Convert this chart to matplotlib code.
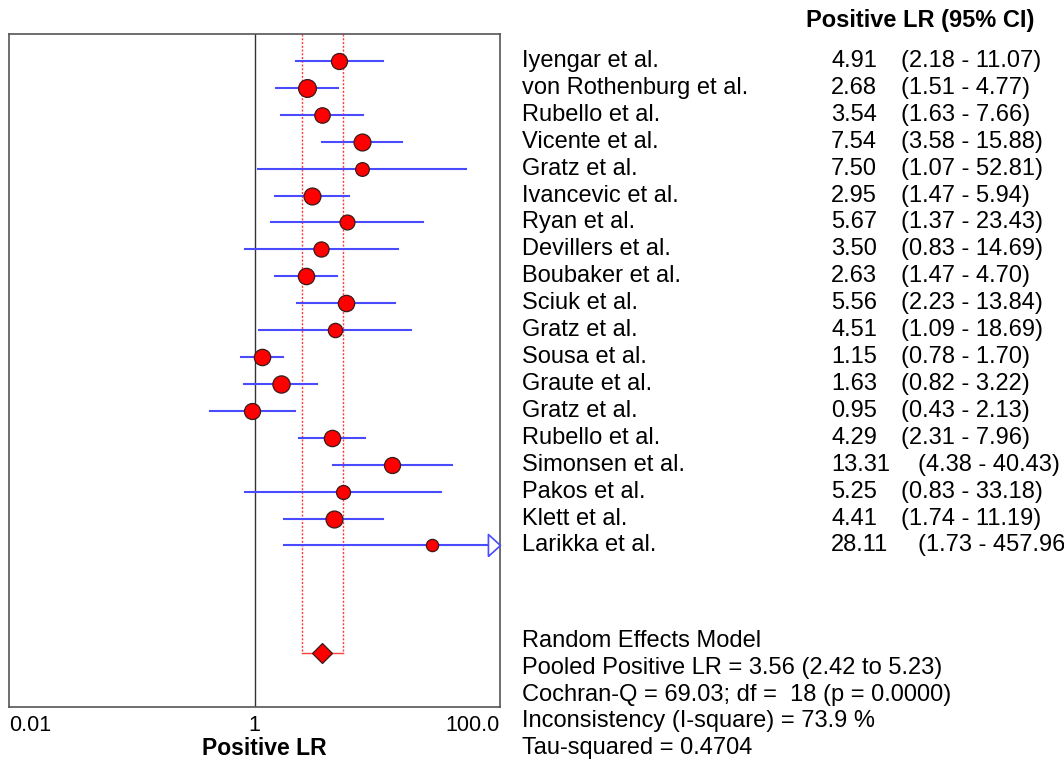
import matplotlib
matplotlib.use('Agg')
import matplotlib.pyplot as plt
import matplotlib.transforms as mtransforms

plt.rcParams['font.family'] = ['Liberation Sans', 'DejaVu Sans']

# --- study data ---
studies = ["Iyengar et al.", "von Rothenburg et al.", "Rubello et al.", "Vicente et al.",
           "Gratz et al.", "Ivancevic et al.", "Ryan et al.", "Devillers et al.",
           "Boubaker et al.", "Sciuk et al.", "Gratz et al.", "Sousa et al.",
           "Graute et al.", "Gratz et al.", "Rubello et al.", "Simonsen et al.",
           "Pakos et al.", "Klett et al.", "Larikka et al."]
lr = [4.91, 2.68, 3.54, 7.54, 7.50, 2.95, 5.67, 3.50, 2.63, 5.56, 4.51, 1.15,
      1.63, 0.95, 4.29, 13.31, 5.25, 4.41, 28.11]
ci_low = [2.18, 1.51, 1.63, 3.58, 1.07, 1.47, 1.37, 0.83, 1.47, 2.23, 1.09, 0.78,
          0.82, 0.43, 2.31, 4.38, 0.83, 1.74, 1.73]
ci_high = [11.07, 4.77, 7.66, 15.88, 52.81, 5.94, 23.43, 14.69, 4.70, 13.84, 18.69,
           1.70, 3.22, 2.13, 7.96, 40.43, 33.18, 11.19, 457.96]
# relative study weights
weights = [5.5, 6.1, 5.3, 5.8, 4.7, 5.8, 5.1, 5.2, 5.6, 5.6, 4.9, 5.6,
           5.9, 5.5, 5.6, 5.5, 4.8, 5.8, 4.2]

pooled = 3.56
pooled_low = 2.42
pooled_high = 5.23
stats_lines = ["Random Effects Model",
               "Pooled Positive LR = 3.56 (2.42 to 5.23)",
               "Cochran-Q = 69.03; df =  18 (p = 0.0000)",
               "Inconsistency (I-square) = 73.9 %",
               "Tau-squared = 0.4704"]

XMIN, XMAX = 0.01, 100.0
FS_TICK = 15.5
FS = 17

fig = plt.figure(figsize=(10.64, 7.64), dpi=100)
ax = fig.add_axes([9 / 1064, 1 - 707 / 764, 491 / 1064, 673 / 764])
ax.set_xscale('log')
ax.set_xlim(XMIN, XMAX)
ax.set_ylim(24, -1)

pooled_row = len(studies) + 3

# reference line at 1
ax.axvline(1, color='#333333', linewidth=1.0, zorder=1)

# pooled CI box (dashed verticals down to the diamond)
for v in (pooled_low, pooled_high):
    ax.plot([v, v], [-1, pooled_row], color='#ff3b3b', linestyle=(0, (1.5, 1.2)),
            linewidth=1.0, zorder=2)
ax.plot([pooled_low, pooled_high], [pooled_row, pooled_row], color='#ff3b3b',
        linewidth=1.0, zorder=2)

for i in range(len(studies)):
    hi = min(ci_high[i], XMAX)
    ax.plot([ci_low[i], hi], [i, i], color='#4a4aff', linewidth=1.5, zorder=3)
    ax.plot(lr[i], i, 'o', markersize=weights[i] * 2.1, markerfacecolor='#ff0000',
            markeredgecolor='#3a1a1a', markeredgewidth=0.9, zorder=4)
    if ci_high[i] > XMAX:
        ax.plot(XMAX, i, marker=[(-1.1, -1), (0, 0), (-1.1, 1), (-1.1, -1)],
                markersize=17.4, markerfacecolor='white', markeredgecolor='#4a4aff',
                markeredgewidth=1.2, clip_on=False, zorder=5)

ax.plot(pooled, pooled_row, 'D', markersize=10.2, markerfacecolor='#ff0000',
        markeredgecolor='#3a1a1a', markeredgewidth=0.9, zorder=4)

# axes styling
for s in ax.spines.values():
    s.set_color('#555555')
    s.set_linewidth(1.2)
ax.set_yticks([])
ax.minorticks_off()
ax.set_xticks([0.01, 1, 100])
ax.set_xticklabels(['0.01', '1', '100.0'], fontsize=FS_TICK)
ax.tick_params(axis='x', length=0, pad=6)
labels = ax.get_xticklabels()
labels[0].set_horizontalalignment('left')
labels[2].set_horizontalalignment('right')
ax.set_xlabel('Positive LR', fontsize=16.5, fontweight='bold', labelpad=2)
ax.xaxis.set_label_coords(0.52, -0.044)

# right-hand table
trans = mtransforms.blended_transform_factory(fig.transFigure, ax.transData)
fig.text(806 / 1064, 1 - 20 / 764, "Positive LR (95% CI)", fontsize=FS,
         fontweight='bold', va='center', ha='left')
for i, name in enumerate(studies):
    ax.text(522 / 1064, i, name, transform=trans, fontsize=FS, va='center',
            ha='left', clip_on=False)
    val = f"{lr[i]:.2f}"
    ax.text(831 / 1064, i, val, transform=trans, fontsize=FS, va='center',
            ha='left', clip_on=False)
    ci_x = 918 / 1064 if len(val) > 4 else 901 / 1064
    ci_txt = f"({ci_low[i]:.2f} - {ci_high[i]:.2f})"
    ax.text(ci_x, i, ci_txt, transform=trans, fontsize=FS, va='center',
            ha='left', clip_on=False)

for k, line in enumerate(stats_lines):
    fig.text(522 / 1064, 1 - (641 + k * 26.8) / 764, line, fontsize=FS,
             va='center', ha='left')

fig.savefig('out.png', dpi=100)
